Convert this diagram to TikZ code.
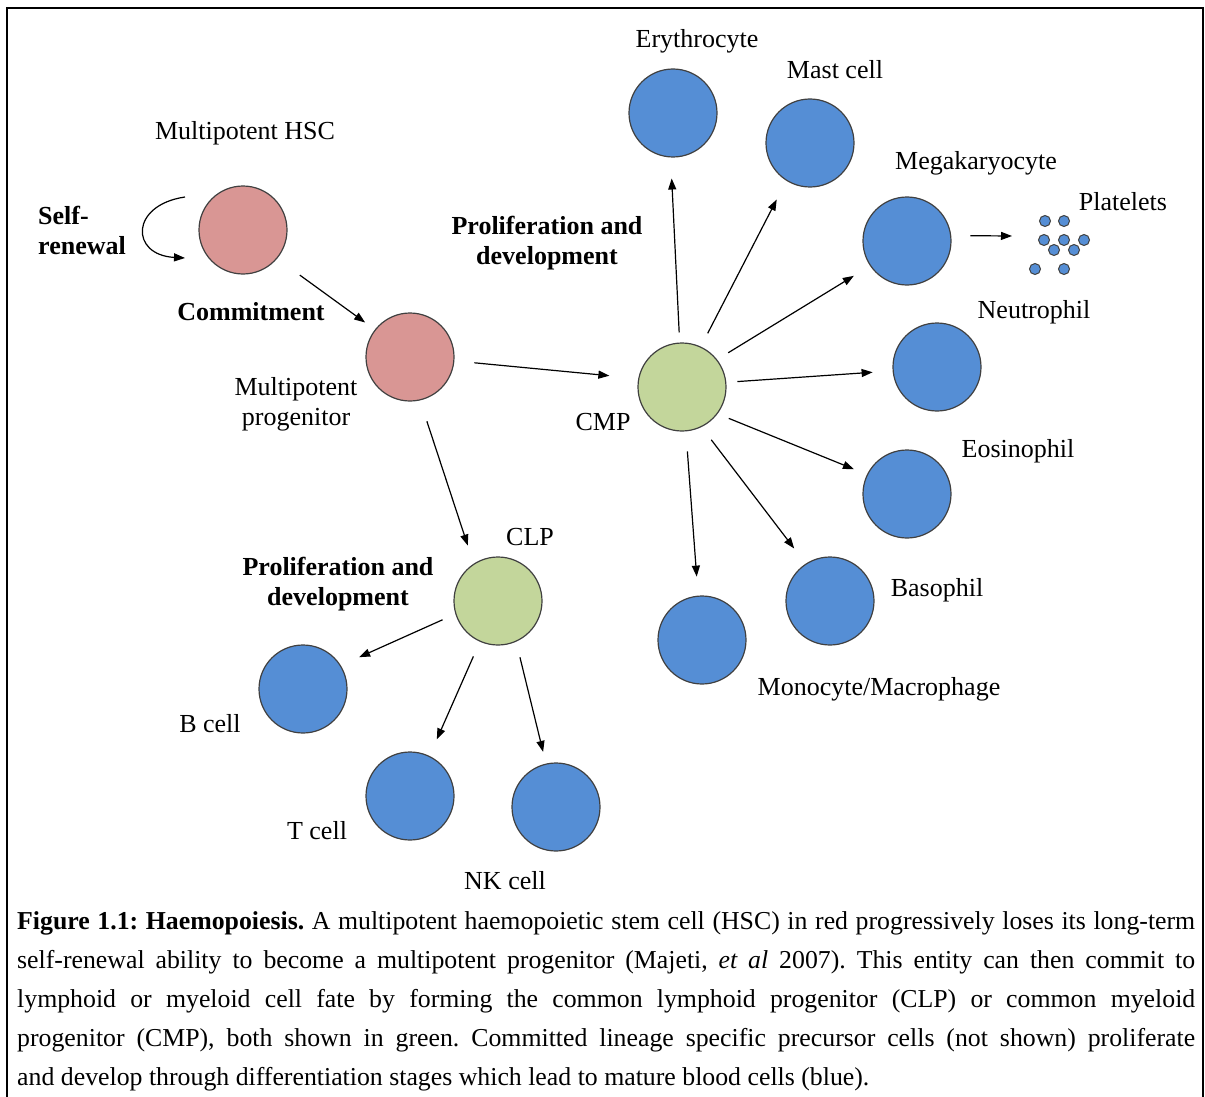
\documentclass[tikz,border=0pt]{standalone}
\usepackage{fontspec}
\setmainfont{Liberation Serif}
\usetikzlibrary{arrows.meta}
\definecolor{hscred}{RGB}{217,150,148}
\definecolor{progreen}{RGB}{195,214,155}
\definecolor{cellblue}{RGB}{85,142,213}
\frenchspacing
\begin{document}
\begin{tikzpicture}[
  x=1pt, y=-1pt,
  cell/.style={circle,draw=black!75,line width=1.2pt,minimum size=88pt,inner sep=0pt},
  dot/.style={circle,draw=black!75,line width=1pt,fill=cellblue,minimum size=11pt,inner sep=0pt},
  lbl/.style={font=\fontsize{26}{30}\selectfont,align=center,inner sep=0pt},
  blbl/.style={lbl,font=\fontsize{26}{30}\selectfont\bfseries},
  arr/.style={-{Triangle[length=11pt,width=8pt]},line width=1.2pt}
]
  \useasboundingbox (0,0) rectangle (1205,1097);
  \draw[line width=2.5pt] (7,1097) -- (7,8) -- (1203,8) -- (1203,1097);

  \node[cell,fill=hscred]    (hsc)  at (243,230) {};
  \node[cell,fill=hscred]    (mpp)  at (410,357) {};
  \node[cell,fill=progreen]  (cmp)  at (682,387) {};
  \node[cell,fill=progreen]  (clp)  at (498,601) {};
  \node[cell,fill=cellblue]  (ery)  at (673,113) {};
  \node[cell,fill=cellblue]  (mast) at (810,143) {};
  \node[cell,fill=cellblue]  (mega) at (907,241) {};
  \node[cell,fill=cellblue]  (neut) at (937,367) {};
  \node[cell,fill=cellblue]  (eos)  at (907,494) {};
  \node[cell,fill=cellblue]  (baso) at (830,601) {};
  \node[cell,fill=cellblue]  (mono) at (702,640) {};
  \node[cell,fill=cellblue]  (bc)   at (303,689) {};
  \node[cell,fill=cellblue]  (tc)   at (410,796) {};
  \node[cell,fill=cellblue]  (nk)   at (556,807) {};

  \node[dot] (pl1) at (1045,221) {};
  \node[dot] (pl2) at (1064,221) {};
  \node[dot] (pl3) at (1044,240) {};
  \node[dot] (pl4) at (1064,240) {};
  \node[dot] (pl5) at (1084,240) {};
  \node[dot] (pl6) at (1054,250) {};
  \node[dot] (pl7) at (1074,250) {};
  \node[dot] (pl8) at (1035,269) {};
  \node[dot] (pl9) at (1064,269) {};
  \coordinate (plt)   at (1012,236);
  \coordinate (loopa) at (185,197);
  \coordinate (loopb) at (185,258);

  \node[lbl]  (thsc)  at (245,133) {Multipotent HSC};
  \node[blbl,align=left] (tself) at (82,230) {Self-\\renewal};
  \node[blbl] (tcom)  at (251,312) {Commitment};
  \node[lbl]  (tmpp)  at (296,404) {Multipotent\\progenitor};
  \node[blbl] (tpro1) at (547,243) {Proliferation and\\development};
  \node[lbl]  (tcmp)  at (603,422) {CMP};
  \node[lbl]  (tery)  at (697,41)  {Erythrocyte};
  \node[lbl]  (tmast) at (835,70)  {Mast cell};
  \node[lbl]  (tmega) at (976,163) {Megakaryocyte};
  \node[lbl]  (tplt)  at (1123,202) {Platelets};
  \node[lbl]  (tneut) at (1034,312) {Neutrophil};
  \node[lbl]  (teos)  at (1018,451) {Eosinophil};
  \node[lbl]  (tbaso) at (937,590) {Basophil};
  \node[lbl]  (tmono) at (879,689) {Monocyte/Macrophage};
  \node[lbl]  (tclp)  at (530,537) {CLP};
  \node[blbl] (tpro2) at (338,584) {Proliferation and\\development};
  \node[lbl]  (tbc)   at (210,724) {B cell};
  \node[lbl]  (ttc)   at (317,831) {T cell};
  \node[lbl]  (tnk)   at (505,881) {NK cell};

  \draw[arr] (loopa) .. controls (130,205) and (130,255) .. (loopb);
  \draw[arr,shorten <=28pt,shorten >=12pt] (hsc.-40) -- (mpp.142);
  \draw[arr,shorten <=20pt,shorten >=29pt] (mpp.-5) -- (cmp.169);
  \draw[arr,shorten <=22pt,shorten >=19pt] (mpp.-77) -- (clp.123);
  \draw[arr,shorten <=10pt,shorten >=21pt] (cmp.93) -- (ery.-93);
  \draw[arr,shorten <=15pt,shorten >=21pt] (cmp.65) -- (mast.-122);
  \draw[arr,shorten <=13pt,shorten >=19pt] (cmp.38) -- (mega.-146);
  \draw[arr,shorten <=11pt,shorten >=20pt] (cmp.6) -- (neut.-175);
  \draw[arr,shorten <=12pt,shorten >=14pt] (cmp.-37) -- (eos.154);
  \draw[arr,shorten <=16pt,shorten >=19pt] (cmp.-64) -- (baso.123);
  \draw[arr,shorten <=20pt,shorten >=19pt] (cmp.-85) -- (mono.95);
  \draw[arr,shorten <=19pt] (mega.7) -- (plt);
  \draw[arr,shorten <=14pt,shorten >=20pt] (clp.-163) -- (bc.32);
  \draw[arr,shorten <=16pt,shorten >=18pt] (clp.-114) -- (tc.64);
  \draw[arr,shorten <=16pt,shorten >=12pt] (clp.-66) -- (nk.103);

  \node[anchor=base west,text width=1178pt,align=justify,inner sep=0pt,
        font=\fontsize{25.8}{39}\selectfont] (cap) at (17,929)
    {\textbf{Figure 1.1: Haemopoiesis.} A multipotent haemopoietic stem cell (HSC) in red progressively loses its long-term\linebreak
     self-renewal ability to become a multipotent progenitor (Majeti, \textit{et al} 2007). This entity can then commit to\linebreak
     lymphoid or myeloid cell fate by forming the common lymphoid progenitor (CLP) or common myeloid\linebreak
     progenitor (CMP), both shown in green. Committed lineage specific precursor cells (not shown) proliferate\linebreak
     and develop through differentiation stages which lead to mature blood cells (blue).};
\end{tikzpicture}
\end{document}
